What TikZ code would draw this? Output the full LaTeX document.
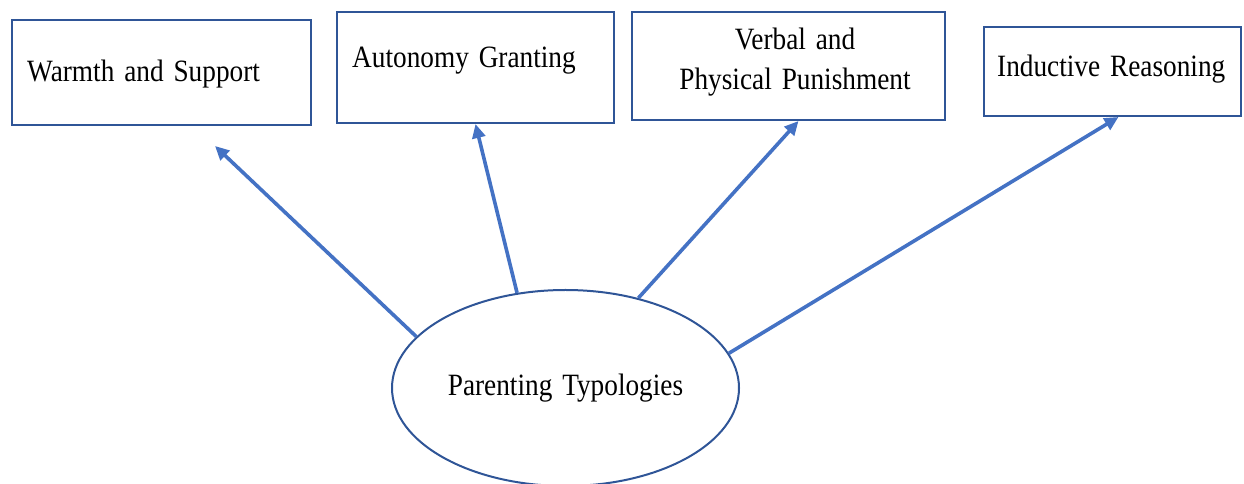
\documentclass[tikz,border=0pt]{standalone}
\usepackage{fontspec}
\setmainfont{Liberation Serif}[FakeStretch=0.88,WordSpace=1.45]
\usetikzlibrary{shapes.geometric,arrows.meta,calc}
\definecolor{boxblue}{HTML}{2F5597}
\definecolor{arrblue}{HTML}{4472C4}
\begin{document}
\begin{tikzpicture}[x=1pt,y=1pt,
  box/.style={draw=boxblue,line width=2pt,inner sep=0pt},
  lbl/.style={inner sep=0pt,font=\fontsize{31}{40}\selectfont},
  arr/.style={draw=arrblue,line width=3.6pt,-{Triangle[length=14pt,width=13pt]}}]
\useasboundingbox (0,0) rectangle (1244,484);
\node[box,minimum width=299pt,minimum height=105pt] (ws) at (161.5,411.5) {};
\node[box,minimum width=277pt,minimum height=111pt] (ag) at (475.5,416.5) {};
\node[box,minimum width=313pt,minimum height=108pt] (vp) at (788.5,418) {};
\node[box,minimum width=257pt,minimum height=89pt] (ir) at (1112.5,412.5) {};
\node[lbl,anchor=base west] (wst) at (27,402) {Warmth and Support};
\node[lbl,anchor=base west] (agt) at (352,416) {Autonomy Granting};
\node[lbl,anchor=base] (vpt1) at (795,434) {Verbal and};
\node[lbl,anchor=base] (vpt2) at (795,394) {Physical Punishment};
\node[lbl,anchor=base west] (irt) at (997,407) {Inductive Reasoning};
\node[ellipse,draw=boxblue,line width=2pt,minimum width=347pt,minimum height=196pt,inner sep=0pt,lbl] (pt) at (565.5,96) {Parenting Typologies};
\coordinate (t1) at (215,338);
\draw[arr] (pt.161.4) -- (t1);
\draw[arr] (pt.117.5) -- (ag.south);
\draw[arr] (pt.51) -- ($(vp.south)+(10,0)$);
\draw[arr] (pt.12.5) -- ($(ir.south)+(6,0)$);
\end{tikzpicture}
\end{document}
